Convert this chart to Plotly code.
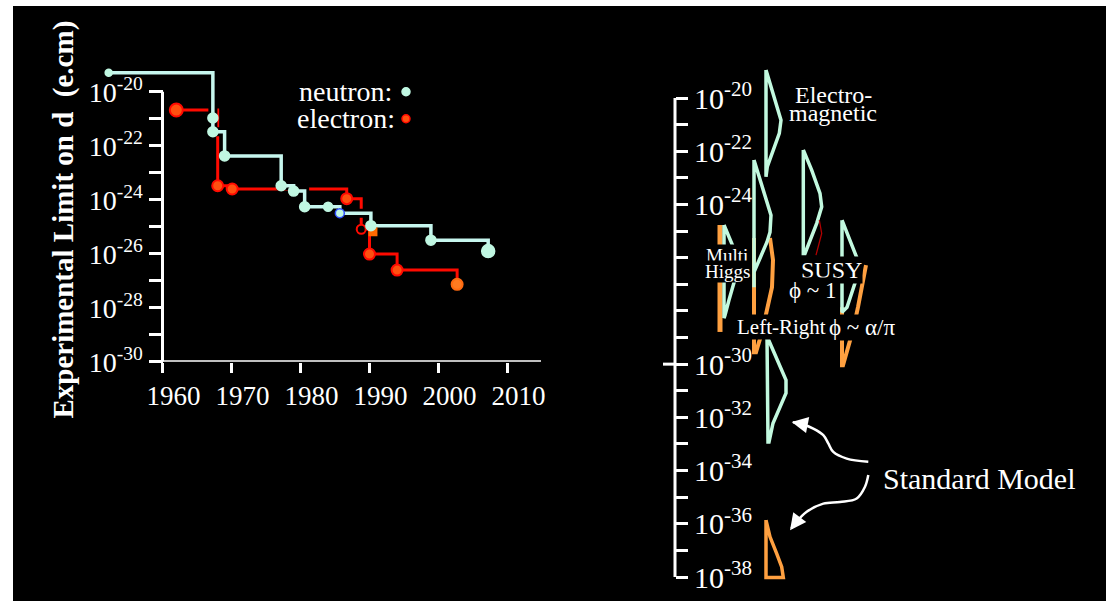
import numpy as np
import plotly.graph_objects as go

W, H = 1113, 601
FONT = "Liberation Serif, Times New Roman, serif"

# ---------------- data: left panel (experimental EDM limits) ----------------
neutron_year = [1952.2, 1967.3, 1967.3, 1969.0, 1977.2, 1979.0, 1980.6, 1984.0, 1985.7, 1990.2, 1998.9, 2007.2]
neutron_limit = [5.0e-20, 1.07e-21, 3.3e-22, 4.2e-23, 3.3e-24, 2.1e-24, 5.5e-25, 5.5e-25, 3.2e-25, 1.1e-25, 3.2e-26, 1.26e-26]

electron_year = [1962.0, 1968.0, 1970.1, 1986.7, 1988.8, 1990.0, 1994.0, 2002.7]
electron_limit = [2.1e-21, 3.3e-24, 2.5e-24, 1.1e-24, 8.1e-26, 9.8e-27, 2.5e-27, 7.4e-28]

atom_year = [1990.5]
atom_limit = [6.5e-26]

year_ticks = [1960, 1970, 1980, 1990, 2000, 2010]
left_exp_ticks = [-30, -28, -26, -24, -22, -20]
right_exp_ticks = [-38, -36, -34, -32, -30, -28, -26, -24, -22, -20]
right_exp_labelled = [-38, -36, -34, -32, -30, -24, -22, -20]

# ---------------- data: right panel (theory predictions, log10 d) ----------------
em_prof = [91, 96.7, 102.3, 106, 104.3, 98.3, 92.3, 91, 91]
em_exp = [-18.95, -19.64, -20.33, -20.83, -21.33, -21.95, -22.58, -22.96, -18.95]

lr_prof = [79, 85, 91, 96, 95, 92, 85, 79, 79, 79]
lr_exp = [-22.33, -23.08, -23.83, -24.40, -25.04, -25.41, -26.02, -26.54, -27.11, -22.33]
lr_or_prof = [95, 98, 97, 92, 87, 81, 79, 79]
lr_or_exp = [-25.26, -26.09, -27.11, -28.05, -28.80, -29.55, -29.55, -25.26]

sm_prof = [92, 96, 103, 111, 111, 105, 98, 94, 93, 92]
sm_exp = [-28.95, -29.29, -29.85, -30.60, -31.09, -31.62, -32.22, -32.93, -32.93, -28.95]
sme_prof = [91, 95, 101.7, 106.7, 108.3, 91, 91]
sme_exp = [-35.86, -36.49, -37.12, -37.62, -38.02, -38.02, -35.86]

susy1_prof = [128.3, 136.7, 145, 146.7, 141.7, 135, 130, 128.3, 128.3]
susy1_exp = [-21.95, -22.71, -23.58, -24.09, -24.71, -25.34, -25.84, -25.84, -21.95]
susy1_red_prof = [144.3, 146.7, 141]
susy1_red_exp = [-24.59, -25.09, -25.90]

susy2_prof = [167, 175, 182, 183, 180, 172, 168, 167, 167]
susy2_exp = [-24.59, -25.34, -26.02, -26.47, -26.95, -27.86, -28.05, -28.05, -24.59]
susy2_or_prof = [191, 188, 183, 178, 173, 168, 167, 167]
susy2_or_exp = [-26.28, -26.95, -27.86, -28.72, -29.40, -30.04, -30.04, -27.86]

mh_prof = [49, 57, 62, 64, 61, 58, 54, 50, 49, 49]
mh_exp = [-24.77, -25.45, -25.94, -26.28, -26.65, -27.11, -27.59, -28.16, -28.27, -24.77]
mh_or_prof = [45, 45]
mh_or_exp = [-24.77, -28.79]

arrow1_x = [193.3, 171.7, 158.3, 153.3, 148.3, 138.3, 125, 118]
arrow1_y = [-33.67, -33.55, -33.30, -32.98, -32.67, -32.42, -32.23, -32.18]
arrow2_x = [193.3, 190, 181.7, 165, 148.3, 131.7, 120, 116.5]
arrow2_y = [-34.17, -34.61, -35.05, -35.18, -35.24, -35.55, -35.99, -36.17]

# ---------------- colours ----------------
NEUT = "#c6f6ee"
NEUT_DOT = "#c0f7e2"
RED = "#ff0a00"
RED_DOT = "#ff5010"
MINT = "#c2f9df"
ORANGE = "#ffa040"

# ---------------- geometry helpers (pixel layout of the picture) ----------------
SQ = 0.973   # vertical scale observed between figure and picture

def fx(px):
    return px / W

def fy(py):
    return 1 - (py / SQ) / H

L_X0, L_X1 = 100, 548
Y1960_PX, PX_PER_YEAR = 162.5, 6.9
def year_at(px):
    return 1960 + (px - Y1960_PX) / PX_PER_YEAR

R_AXIS_PX = 675
R_DEC = 26.6
def rexp_at(py):
    return -20 - (py - 98) / R_DEC

fig = go.Figure()

n_log = np.log10(neutron_limit)
e_log = np.log10(electron_limit)
a_log = np.log10(atom_limit)

fig.add_trace(go.Scatter(x=electron_year, y=e_log, mode="lines", line=dict(color=RED, width=3, shape="hv"),
                         hoverinfo="skip", showlegend=False))
fig.add_trace(go.Scatter(x=neutron_year, y=n_log, mode="lines", line=dict(color="black", width=9, shape="hv"),
                         hoverinfo="skip", showlegend=False))
fig.add_trace(go.Scatter(x=neutron_year, y=n_log, mode="lines", line=dict(color=NEUT, width=3.5, shape="hv"),
                         showlegend=False))
e_fill = [RED_DOT, RED_DOT, RED_DOT, RED_DOT, "black", RED_DOT, RED_DOT, "#ff7a20"]
e_line = [RED, RED, RED, RED, RED, RED, RED, "#ff6a10"]
e_size = [13, 11, 11, 11, 9, 11, 11, 11]
fig.add_trace(go.Scatter(x=electron_year, y=e_log, mode="markers",
                         marker=dict(color=e_fill, size=e_size, opacity=1, line=dict(color=e_line, width=2)),
                         showlegend=False))
fig.add_trace(go.Scatter(x=atom_year, y=a_log, mode="markers",
                         marker=dict(color="#ff6a00", size=9, symbol="square", opacity=1, line=dict(width=0)),
                         showlegend=False))
n_size = [7, 10, 10, 10, 10, 10, 10, 9, 9, 10, 10, 13]
n_line = [NEUT_DOT] * 8 + ["#3050ff"] + [NEUT_DOT] * 3
fig.add_trace(go.Scatter(x=neutron_year, y=n_log, mode="markers",
                         marker=dict(color=NEUT_DOT, size=n_size, opacity=1, line=dict(color=n_line, width=1.5)),
                         showlegend=False))
fig.add_trace(go.Scatter(x=[year_at(406), year_at(406)], y=[-20.0, -21.0], mode="markers",
                         marker=dict(color=[NEUT_DOT, RED_DOT], size=8, opacity=1,
                                     line=dict(color=[NEUT_DOT, RED], width=1.5)),
                         showlegend=False, hoverinfo="skip"))

def outline(xs, ys, color, width=3.5):
    fig.add_trace(go.Scatter(x=xs, y=ys, mode="lines", xaxis="x2", yaxis="y2",
                             line=dict(color=color, width=width), hoverinfo="skip", showlegend=False))

outline(mh_or_prof, mh_or_exp, ORANGE, 5)
outline(lr_or_prof, lr_or_exp, ORANGE, 4)
outline(susy2_or_prof, susy2_or_exp, ORANGE, 4)
outline(sme_prof, sme_exp, ORANGE, 3.5)
outline(mh_prof, mh_exp, MINT)
outline(lr_prof, lr_exp, MINT)
outline(em_prof, em_exp, MINT)
outline(susy1_prof, susy1_exp, MINT)
outline(susy2_prof, susy2_exp, MINT)
outline(sm_prof, sm_exp, MINT)
outline(susy1_red_prof, susy1_red_exp, "#b00000", 1.3)
fig.add_trace(go.Scatter(x=arrow1_x, y=arrow1_y, mode="lines", xaxis="x2", yaxis="y2",
                         line=dict(color="white", width=2.5, shape="spline"), hoverinfo="skip", showlegend=False))
fig.add_trace(go.Scatter(x=arrow2_x, y=arrow2_y, mode="lines", xaxis="x2", yaxis="y2",
                         line=dict(color="white", width=2.5, shape="spline"), hoverinfo="skip", showlegend=False))

def sup_labels(vals, shown):
    return ["10<sup>%d</sup>" % v if v in shown else "" for v in vals]

shapes = [
    dict(type="rect", xref="paper", yref="paper", x0=fx(13), x1=fx(1106), y0=-0.1, y1=fy(6),
         fillcolor="black", line=dict(width=0), layer="below"),
    dict(type="line", xref="x", yref="y", x0=1960, x1=1960, y0=-30, y1=-20, line=dict(color="white", width=3)),
    dict(type="line", xref="x", yref="y", x0=1960, x1=year_at(541), y0=-30, y1=-30, line=dict(color="white", width=3)),
    dict(type="line", xref="x2", yref="y2", x0=0, x1=0, y0=-38, y1=-20, line=dict(color="white", width=3)),
    dict(type="line", xref="x2", yref="y2", x0=-12, x1=0, y0=-30, y1=-30, line=dict(color="white", width=3)),
]

annotations = [
    dict(text="<b>Experimental Limit on d  (e.cm)</b>", xref="paper", yref="paper", x=fx(45), y=fy(220),
         textangle=-90, showarrow=False, font=dict(family=FONT, size=29, color="white")),
    dict(text="neutron:", xref="x", yref="y", x=year_at(394), y=-20.0, xanchor="right", showarrow=False,
         font=dict(family=FONT, size=28, color="white")),
    dict(text="electron:", xref="x", yref="y", x=year_at(397), y=-21.0, xanchor="right", showarrow=False,
         font=dict(family=FONT, size=28, color="white")),
]

def rtext(text, px, py, size, bg=None):
    d = dict(text=text, xref="x2", yref="y2", x=px - R_AXIS_PX, y=rexp_at(py), showarrow=False,
             font=dict(family=FONT, size=size, color="white"), borderpad=0)
    if bg:
        d["bgcolor"] = bg
    annotations.append(d)

rtext("Electro-", 833, 95, 24)
rtext("magnetic", 833, 113, 24)
rtext("Multi", 727, 255, 19, "black")
rtext("Higgs", 727, 271, 19, "black")
rtext("SUSY", 831, 270, 24, "black")
rtext("\u03d5 ~ 1", 813, 290, 23, "black")
rtext("Left-Right", 781, 327, 21, "black")
rtext("\u03d5 ~ \u03b1/\u03c0", 862, 327, 23, "black")
rtext("Standard Model", 979, 478, 30)
annotations.append(dict(text="", xref="x2", yref="y2", x=116.7, y=-32.17, ax=10, ay=2, showarrow=True,
                        arrowhead=2, arrowsize=1.3, arrowwidth=2.5, arrowcolor="white", standoff=0))
annotations.append(dict(text="", xref="x2", yref="y2", x=115, y=-36.24, ax=6, ay=-8, showarrow=True,
                        arrowhead=2, arrowsize=1.3, arrowwidth=2.5, arrowcolor="white", standoff=0))

fig.update_layout(
    width=W, height=H, margin=dict(l=0, r=0, t=0, b=0),
    paper_bgcolor="white", plot_bgcolor="rgba(0,0,0,0)",
    showlegend=False, shapes=shapes, annotations=annotations,
    xaxis=dict(domain=[fx(L_X0), fx(L_X1)], range=[year_at(L_X0), year_at(L_X1)], anchor="y",
               tickmode="array", tickvals=year_ticks, ticktext=[str(v) for v in year_ticks],
               ticks="outside", ticklen=10, tickwidth=3, tickcolor="white", ticklabelshift=11,
               showline=False, showgrid=False, zeroline=False,
               tickfont=dict(family=FONT, size=27, color="white")),
    yaxis=dict(domain=[fy(361.7), fy(64.7)], range=[-30, -19], anchor="free", position=fx(Y1960_PX),
               side="left", tickmode="array", tickvals=left_exp_ticks,
               ticktext=sup_labels(left_exp_ticks, left_exp_ticks),
               ticks="outside", ticklen=14, tickwidth=3, tickcolor="white",
               minor=dict(tickmode="array", tickvals=[-29, -27, -25, -23, -21], ticks="outside",
                          ticklen=14, tickwidth=3, tickcolor="white", showgrid=False),
               showline=False, showgrid=False, zeroline=False,
               tickfont=dict(family=FONT, size=28, color="white")),
    xaxis2=dict(domain=[fx(660), fx(1106)], range=[660 - R_AXIS_PX, 1106 - R_AXIS_PX], anchor="y2",
                visible=False),
    yaxis2=dict(domain=[fy(584), fy(58)], range=[rexp_at(584), rexp_at(58)], anchor="free",
                position=fx(R_AXIS_PX), side="right", layer="below traces",
                tickmode="array", tickvals=right_exp_ticks,
                ticktext=sup_labels(right_exp_ticks, right_exp_labelled),
                ticks="outside", ticklen=12, tickwidth=3, tickcolor="white",
                minor=dict(tickmode="array", tickvals=list(range(-37, -20, 2)), ticks="outside",
                           ticklen=12, tickwidth=3, tickcolor="white", showgrid=False),
                showline=False, showgrid=False, zeroline=False,
                tickfont=dict(family=FONT, size=30, color="white")),
)

fig.write_html("out.html", config={"displayModeBar": False},
               post_script="document.body.style.margin='0';document.body.style.overflow='hidden';")
